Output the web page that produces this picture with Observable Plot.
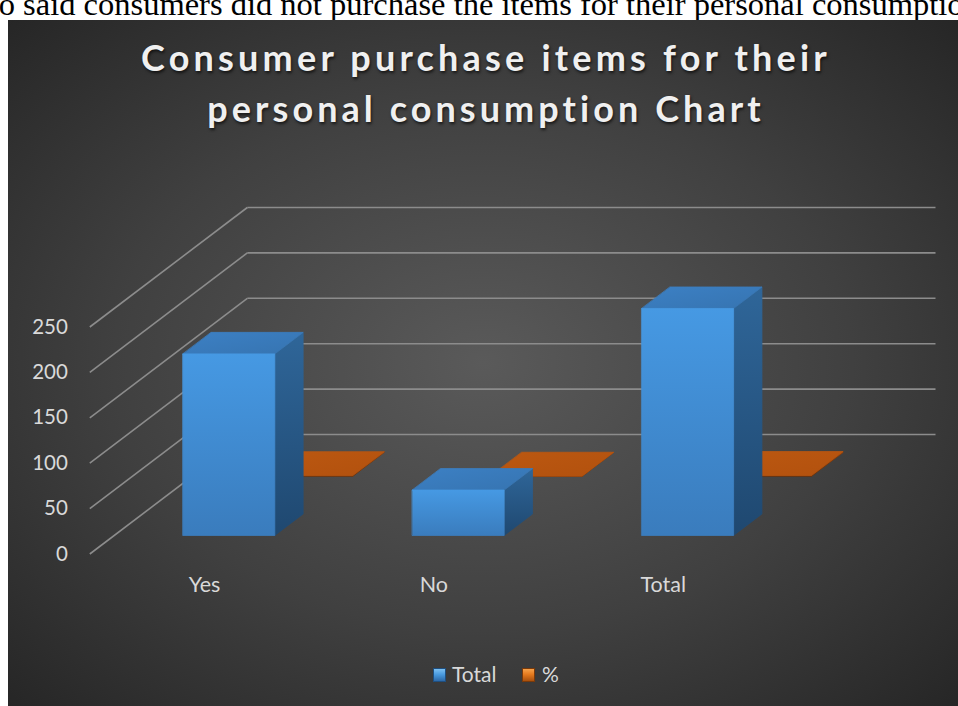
<!DOCTYPE html>
<html>
<head>
<meta charset="utf-8">
<script src="https://cdn.jsdelivr.net/npm/d3@7"></script>
<script src="https://cdn.jsdelivr.net/npm/@observablehq/plot@0.6"></script>
<style>
html, body { margin: 0; padding: 0; background: #fff; width: 958px; height: 706px; overflow: hidden; position: relative; }
#doc { position: absolute; left: -41px; top: -12px; font-family: "Liberation Serif", "Times New Roman", serif; font-size: 32.5px; line-height: 32px; white-space: nowrap; color: #000; }
#chart { position: absolute; left: 8px; top: 20px; width: 950px; height: 686px;
  background: radial-gradient(ellipse at 50% 50%, #5a5a5a 0%, #404040 55%, #262626 100%); }
.tline { position: absolute; left: 0; width: 972px; text-align: center; font-family: Lato, "Open Sans", sans-serif; font-weight: 700; font-size: 36px; line-height: 50px; color: #f0f0f0; text-shadow: 1px 2px 3px rgba(0,0,0,0.65); white-space: nowrap; }
.tline span { display: inline-block; }
#plot { position: absolute; left: 0; top: 150px; }
#legend { position: absolute; top: 664px; left: 0; width: 958px; height: 24px; font-family: Lato, sans-serif; font-size: 21px; line-height: 20px; color: #d9d9d9; }
.sw { position: absolute; top: 4px; width: 13px; height: 14px; }
.lt { position: absolute; top: 0; }
</style>
</head>
<body>
<svg width="0" height="0" style="position:absolute">
  <defs>
    <linearGradient id="blueFront" x1="0" y1="0" x2="0" y2="1">
      <stop offset="0" stop-color="#4699e3"/><stop offset="1" stop-color="#3a7cbd"/>
    </linearGradient>
    <linearGradient id="blueSide" x1="0" y1="0" x2="0" y2="1">
      <stop offset="0" stop-color="#2f6699"/><stop offset="1" stop-color="#1f4870"/>
    </linearGradient>
    <linearGradient id="blueTop" x1="0" y1="0" x2="1" y2="1">
      <stop offset="0" stop-color="#3c80c4"/><stop offset="1" stop-color="#3674b1"/>
    </linearGradient>
    <linearGradient id="orangeTop" x1="0" y1="0" x2="1" y2="1">
      <stop offset="0" stop-color="#bc5811"/><stop offset="1" stop-color="#b2510e"/>
    </linearGradient>
    <linearGradient id="orangeSide" x1="0" y1="0" x2="0" y2="1">
      <stop offset="0" stop-color="#8a3e0a"/><stop offset="1" stop-color="#6e3108"/>
    </linearGradient>
    <filter id="soft" x="-50%" y="-50%" width="200%" height="200%">
      <feGaussianBlur stdDeviation="4"/>
    </filter>
  </defs>
</svg>
<div id="doc">who said consumers did not purchase the items for their personal consumption.</div>
<div id="chart"></div>
<div class="tline" id="t1" style="top:32px"><span>Consumer purchase items for their</span></div>
<div class="tline" id="t2" style="top:83px"><span>personal consumption Chart</span></div>
<div id="plot"></div>
<div id="legend">
  <div class="sw" style="left:433px;background:linear-gradient(to bottom,#7cc0f2 0%,#4a9be0 45%,#2c69a8 100%);border:1px solid #1f4f80;box-sizing:border-box;"></div>
  <div class="lt" style="left:452px">Total</div>
  <div class="sw" style="left:522px;background:linear-gradient(to bottom,#f7a24a 0%,#e57a1e 45%,#a9500d 100%);border:1px solid #7a3a0a;box-sizing:border-box;"></div>
  <div class="lt" style="left:542px">%</div>
</div>
<script>
// ---- data ----
const categories = ["Yes", "No", "Total"];
const totalValues = [200, 50, 250];
const percentValues = [0.8, 0.2, 1];
const yTicks = [0, 50, 100, 150, 200, 250];
const seriesNames = ["Total", "%"];

// ---- 3D layout (oblique projection constants, in scale units) ----
const DX = 0.6866;   // full depth → x units
const DY = 131.6;    // full depth → y units
const barLo = 0.3, barHi = 0.7;
const depthRows = [{d0: 0.155, d1: 0.335}, {d0: 0.65, d1: 0.85}];

const P = (x, v, d) => ({x: x + d * DX, y: v + d * DY});

function faces(values, row, sname) {
  const out = {front: [], side: [], top: [], shadow: []};
  values.forEach((h, i) => {
    const x0 = i + barLo, x1 = i + barHi, r = depthRows[row];
    const key = sname + "-" + categories[i];
    const add = (kind, pts) => pts.forEach(p => out[kind].push({key, ...p}));
    add("shadow", [P(x0 - 0.02, 0, r.d0 - 0.01), P(x1 + 0.07, 0, r.d0 - 0.01), P(x1 + 0.07, 0, r.d1 + 0.07), P(x0 - 0.02, 0, r.d1 + 0.07)]);
    add("side", [P(x1, 0, r.d0), P(x1, 0, r.d1), P(x1, h, r.d1), P(x1, h, r.d0)]);
    add("top", [P(x0, h, r.d0), P(x1, h, r.d0), P(x1, h, r.d1), P(x0, h, r.d1)]);
    add("front", [P(x0, 0, r.d0), P(x1, 0, r.d0), P(x1, h, r.d0), P(x0, h, r.d0)]);
  });
  return out;
}

const blue = faces(totalValues, 0, seriesNames[0]);
const orange = faces(percentValues, 1, seriesNames[1]);

const poly = (data, fill, extra = {}) => Plot.line(data, {
  x: "x", y: "y", z: "key", curve: "linear-closed",
  fill, stroke: fill, strokeWidth: 0.8, strokeLinejoin: "round", ...extra
});

const gridColor = "#8c8c8c";

const chart = Plot.plot({
  width: 958,
  height: 470,
  marginLeft: 89.3,
  marginRight: 180.5,
  marginTop: 176.5,
  marginBottom: 66.5,
  x: {domain: [0, categories.length], axis: null},
  y: {domain: [0, 250], axis: null},
  style: {background: "transparent", color: "#d9d9d9", fontFamily: "Lato, 'Open Sans', sans-serif", fontSize: "21px", overflow: "visible"},
  marks: [
    // back wall gridlines
    Plot.link(yTicks, {x1: () => DX, y1: v => v + DY, x2: () => categories.length + DX, y2: v => v + DY, stroke: gridColor, strokeWidth: 1.6}),
    // side wall gridlines
    Plot.link(yTicks, {x1: () => 0, y1: v => v, x2: () => DX, y2: v => v + DY, stroke: gridColor, strokeWidth: 1.6}),
    // % series (back row)
    poly(orange.shadow, "#000", {stroke: "none", fillOpacity: 0.6, ariaLabel: "shadow"}),
    poly(orange.side, "url(#orangeSide)"),
    poly(orange.front, "url(#orangeSide)"),
    poly(orange.top, "url(#orangeTop)"),
    // Total series (front row)
    poly(blue.shadow, "#000", {stroke: "none", fillOpacity: 0.6, ariaLabel: "shadow"}),
    poly(blue.side, "url(#blueSide)"),
    poly(blue.top, "url(#blueTop)"),
    poly(blue.front, "url(#blueFront)"),
    // axes
    Plot.axisY({ticks: yTicks, tickSize: 0, tickPadding: 22, label: null, fontSize: 20.5}),
    Plot.axisX({ticks: categories.map((_, i) => i + 0.5), tickFormat: t => categories[Math.floor(t)], tickSize: 0, tickPadding: 23, label: null, fontSize: 21.5})
  ]
});
chart.querySelectorAll('g[aria-label="shadow"]').forEach(g => g.setAttribute("filter", "url(#soft)"));
document.getElementById("plot").appendChild(chart);

// title letter spacing to match widths
function fit(id, target) {
  const span = document.querySelector("#" + id + " span");
  const w = span.getBoundingClientRect().width;
  const n = span.textContent.length;
  span.style.letterSpacing = ((target - w) / n) + "px";
}
fit("t1", 690);
fit("t2", 558);
</script>
</body>
</html>
